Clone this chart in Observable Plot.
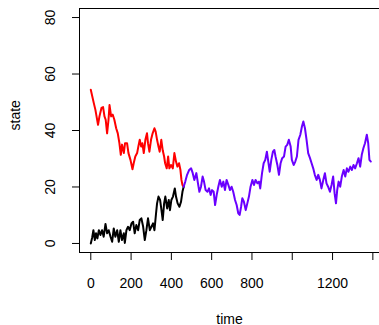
<!DOCTYPE html>
<html><head><meta charset="utf-8">
<script src="https://cdn.jsdelivr.net/npm/d3@7"></script>
<script src="https://cdn.jsdelivr.net/npm/@observablehq/plot@0.6"></script>
<style>body{margin:0;background:#fff}</style></head>
<body><div id="chart"></div>
<script>
const xTicks = [0, 200, 400, 600, 800, 1000, 1200, 1400];
const xTickLabels = ["0", "200", "400", "600", "800", "", "1200", ""];
const yTicks = [0, 20, 40, 60, 80];
const xDomain = [-56, 1433];
const yDomain = [-3.2, 83.2];
const xTitle = "time";
const yTitle = "state";

const redT = [0,15,23,36,43,53,61,68,74,81,88,93,101,109,117,126,134,142,149,155,164,170,180,187,197,207,213,221,230,236,243,250,256,263,271,279,284,291,299,307,316,322,329,336,342,350,357,364,369,377,384,390,398,407,415,423,430,438,445,450,455,461];
const redV = [54.4,49.7,47.3,42,45,48,48.3,45,43.8,39,43.8,49,45,45.6,43.8,40.8,39,35.5,31.4,35,32,35.5,35.5,32,29.6,26.3,28.4,30.8,32,34.3,36.7,34.3,35.5,32,36.7,39,35.5,32.5,36.7,39,40.8,39.6,36.7,34.3,32.5,36.7,33,30.8,28.4,26.6,30.8,26.6,27.8,26.6,32,29,27.2,28.4,26,22.5,20.7,20.1];

const blackT = [0,7,13,20,26,33,40,48,56,64,73,81,89,98,106,114,122,131,139,147,155,164,169,177,185,193,202,210,218,226,235,243,251,260,268,276,284,293,301,309,316,324,329,336,344,352,357,364,370,379,387,393,400,408,417,423,431,440,448,455,461];
const blackV = [0,2.1,4.7,1.2,3.6,1.8,4.7,3,4.7,2.4,6.9,3.6,4.7,2.4,0.6,5.3,2.4,4.7,0.6,4.7,1.2,3.6,0.2,4.7,5.9,4.7,7.1,7.7,3.6,6.5,4.7,8.3,8.9,5.9,1.2,4.7,8.9,4.7,5.9,7.1,4.7,10.7,14.2,16.6,15.4,11.2,8.3,14.2,16.6,12.4,15.4,11.8,15.4,16.6,19.5,16.6,14.2,13,14.8,18.3,20.1];

const purpleT = [461,469,478,488,498,506,514,524,532,539,547,555,562,570,579,587,595,602,610,617,625,633,641,650,658,666,674,683,691,699,707,716,724,732,739,746,752,760,769,777,785,793,802,810,818,827,835,841,850,858,866,874,881,888,896,904,911,917,926,934,942,950,959,967,975,983,992,998,1007,1015,1023,1031,1040,1048,1055,1063,1071,1079,1088,1096,1104,1112,1121,1129,1137,1145,1154,1162,1170,1178,1187,1195,1203,1210,1217,1223,1230,1238,1246,1255,1263,1271,1279,1288,1296,1304,1312,1321,1329,1337,1345,1353,1361,1370,1377,1383,1390];
const purpleV = [20.1,21.9,24.3,26,26.6,24.9,22.5,24.9,21.3,18.3,20.1,23.7,21.9,18.9,18.3,19.5,17.2,18.9,18.3,13.6,17.2,20.1,22.5,20.1,21.9,18.9,22.5,20.7,18.9,20.1,18.3,15.4,13.6,10.7,10.1,13,16,14.8,11.8,14.2,16.6,20.1,22.5,20.7,22.5,21.3,21.9,19.5,24.9,28.4,29.6,32.5,29,25.4,29.6,32.5,33.1,30.8,27.8,24.3,28.4,30.2,30.8,34.3,34.9,36.7,34.3,29.6,27.8,29,30.8,36.7,38.5,41.4,43.2,40.8,36.7,32,30.2,28.4,26.6,24.3,22.5,24.3,22.5,19.5,22.5,24.9,21.3,20.1,18.3,20.7,23.7,17.8,14.2,18.9,21.9,20.1,23.7,26,23.7,26.6,25.4,27.2,26,27.8,26.6,28.4,30.2,27.2,31.4,33.7,35.5,38.5,35.5,29.6,29];

const zip = (T, V) => T.slice(0, Math.min(T.length, V.length)).map((t, i) => ({t, v: V[i]}));
const red = zip(redT, redV), black = zip(blackT, blackV), purple = zip(purpleT, purpleV);

const chart = Plot.plot({
  width: 379, height: 325,
  marginLeft: 79, marginRight: 0, marginTop: 8, marginBottom: 73,
  style: {fontFamily: "'Liberation Sans', Arial, sans-serif", fontSize: "14px", background: "white", color: "black"},
  x: {domain: xDomain, ticks: xTicks, tickFormat: d => xTickLabels[xTicks.indexOf(d)], tickSize: 8, tickPadding: 18, label: null},
  y: {domain: yDomain, ticks: yTicks, tickSize: 7, tickRotate: -90, tickPadding: 18, label: null},
  marks: [
    Plot.ruleX([xDomain[0]], {stroke: "black"}),
    Plot.ruleY(yDomain, {stroke: "black"}),
    Plot.line(red, {x: "t", y: "v", stroke: "#FF0000", strokeWidth: 2}),
    Plot.line(black, {x: "t", y: "v", stroke: "black", strokeWidth: 2}),
    Plot.line(purple, {x: "t", y: "v", stroke: "#6A00FF", strokeWidth: 2}),
    Plot.text([xTitle], {text: d => d, frameAnchor: "bottom", dy: 71, fontSize: 14, fill: "black"}),
    Plot.text([yTitle], {text: d => d, frameAnchor: "left", dx: -64, rotate: -90, fontSize: 14, fill: "black"})
  ]
});
document.getElementById("chart").appendChild(chart);
</script></body></html>
